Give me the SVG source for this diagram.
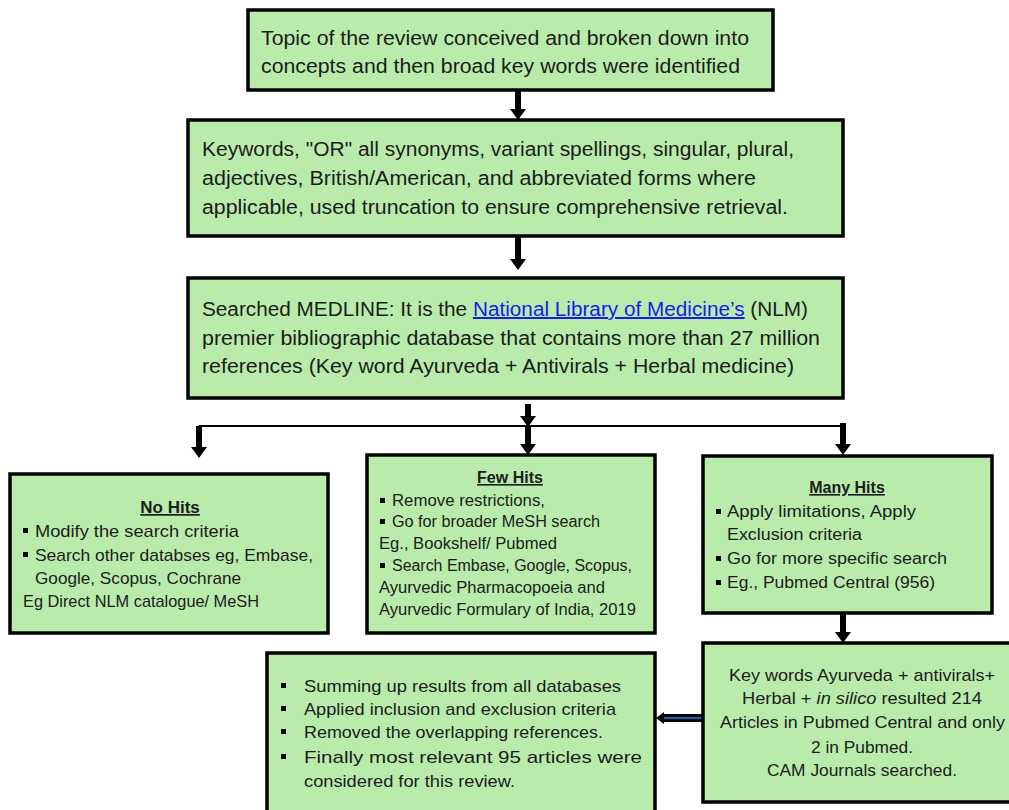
<svg xmlns="http://www.w3.org/2000/svg" width="1009" height="810" viewBox="0 0 1009 810">
<style>
.box{fill:#b9ebaa;stroke:#000;stroke-width:3.5}
.t{font-family:"Liberation Sans",Arial,sans-serif;fill:#1c1c1c}
.l{font-size:20px}
.s{font-size:17px}
.m{font-size:16px}
.h{font-weight:bold;text-decoration:underline;text-anchor:middle}
.b{fill:#000}
.sh{stroke:#000;stroke-width:6;fill:none}
</style>
<defs>
<marker id="ah" markerUnits="userSpaceOnUse" markerWidth="12" markerHeight="18" viewBox="0 -9 12 18" refX="0" refY="0" orient="auto">
<path d="M0,-8 L11,0 L0,8 z" fill="#000"/>
</marker>
</defs>
<rect width="1009" height="810" fill="#fff"/>
<g id="connectors">
<line class="sh" x1="518" y1="90" x2="518" y2="109" marker-end="url(#ah)"/>
<line class="sh" x1="518" y1="236" x2="518" y2="259" marker-end="url(#ah)"/>
<line class="sh" x1="528" y1="404" x2="528" y2="416" marker-end="url(#ah)"/>
<line class="sh" x1="528" y1="426" x2="528" y2="444" marker-end="url(#ah)"/>
<line x1="199" y1="426" x2="846" y2="426" stroke="#000" stroke-width="2"/>
<line class="sh" x1="199" y1="426" x2="199" y2="447" marker-end="url(#ah)"/>
<line class="sh" x1="843" y1="423" x2="843" y2="444" marker-end="url(#ah)"/>
<line class="sh" x1="843" y1="613" x2="843" y2="632" marker-end="url(#ah)"/>
<line x1="662" y1="718" x2="703" y2="718" stroke="#000" stroke-width="8"/>
<line x1="662" y1="718" x2="703" y2="718" stroke="#2f5597" stroke-width="2.5"/>
<path d="M664,712 L656,718 L664,724 z" fill="#000"/>
</g>
<g id="n1">
<rect class="box" x="248" y="10" width="525" height="80"/>
<text class="t l" x="261" y="45" textLength="488" lengthAdjust="spacingAndGlyphs">Topic of the review conceived and broken down into</text>
<text class="t l" x="261" y="73" textLength="479" lengthAdjust="spacingAndGlyphs">concepts and then broad key words were identified</text>
</g>
<g id="n2">
<rect class="box" x="188" y="120" width="655" height="116"/>
<text class="t l" x="202" y="156" textLength="592" lengthAdjust="spacingAndGlyphs">Keywords, "OR" all synonyms, variant spellings, singular, plural,</text>
<text class="t l" x="202" y="185" textLength="554" lengthAdjust="spacingAndGlyphs">adjectives, British/American, and abbreviated forms where</text>
<text class="t l" x="202" y="214" textLength="586" lengthAdjust="spacingAndGlyphs">applicable, used truncation to ensure comprehensive retrieval.</text>
</g>
<g id="n3">
<rect class="box" x="188" y="278" width="655" height="120"/>
<text class="t l" x="202" y="316" textLength="606" lengthAdjust="spacingAndGlyphs">Searched MEDLINE: It is the <tspan fill="#1a1aee" text-decoration="underline">National Library of Medicine’s</tspan> (NLM)</text>
<text class="t l" x="202" y="345" textLength="618" lengthAdjust="spacingAndGlyphs">premier bibliographic database that contains more than 27 million</text>
<text class="t l" x="202" y="373" textLength="592" lengthAdjust="spacingAndGlyphs">references  (Key word Ayurveda  + Antivirals + Herbal medicine)</text>
</g>
<g id="n4">
<rect class="box" x="10" y="474" width="318" height="159"/>
<text class="t s h" x="170" y="513">No Hits</text>
<rect class="b" x="23" y="528" width="5" height="5"/>
<text class="t s" x="35" y="537" textLength="204" lengthAdjust="spacingAndGlyphs">Modify the search criteria</text>
<rect class="b" x="23" y="552" width="5" height="5"/>
<text class="t s" x="35" y="561" textLength="278" lengthAdjust="spacingAndGlyphs">Search other databses eg, Embase,</text>
<text class="t s" x="35" y="584" textLength="206" lengthAdjust="spacingAndGlyphs">Google, Scopus, Cochrane</text>
<text class="t s" x="23" y="607" textLength="236" lengthAdjust="spacingAndGlyphs">Eg Direct NLM catalogue/ MeSH</text>
</g>
<g id="n5">
<rect class="box" x="367" y="455" width="288" height="178"/>
<text class="t m h" x="510" y="483">Few Hits</text>
<rect class="b" x="380" y="498" width="5" height="5"/>
<text class="t m" x="392" y="506" textLength="153" lengthAdjust="spacingAndGlyphs">Remove restrictions,</text>
<rect class="b" x="380" y="519" width="5" height="5"/>
<text class="t m" x="392" y="527" textLength="208" lengthAdjust="spacingAndGlyphs">Go for broader MeSH search</text>
<text class="t m" x="379" y="549" textLength="178" lengthAdjust="spacingAndGlyphs">Eg., Bookshelf/ Pubmed</text>
<rect class="b" x="380" y="563" width="5" height="5"/>
<text class="t m" x="392" y="571" textLength="240" lengthAdjust="spacingAndGlyphs">Search Embase, Google, Scopus,</text>
<text class="t m" x="379" y="593" textLength="226" lengthAdjust="spacingAndGlyphs">Ayurvedic Pharmacopoeia and</text>
<text class="t m" x="379" y="615" textLength="257" lengthAdjust="spacingAndGlyphs">Ayurvedic Formulary of India, 2019</text>
</g>
<g id="n6">
<rect class="box" x="703" y="456" width="289" height="157"/>
<text class="t m h" x="847" y="493">Many Hits</text>
<rect class="b" x="716" y="509" width="5" height="5"/>
<text class="t m" x="727" y="517" textLength="189" lengthAdjust="spacingAndGlyphs">Apply limitations, Apply</text>
<text class="t m" x="727" y="540" textLength="135" lengthAdjust="spacingAndGlyphs">Exclusion criteria</text>
<rect class="b" x="716" y="556" width="5" height="5"/>
<text class="t m" x="727" y="564" textLength="220" lengthAdjust="spacingAndGlyphs">Go for more  specific search</text>
<rect class="b" x="716" y="580" width="5" height="5"/>
<text class="t m" x="727" y="588" textLength="208" lengthAdjust="spacingAndGlyphs">Eg., Pubmed  Central (956)</text>
</g>
<g id="n7">
<rect class="box" x="703" y="643" width="318" height="159"/>
<text class="t s" x="729" y="681" textLength="266" lengthAdjust="spacingAndGlyphs">Key words Ayurveda + antivirals+</text>
<text class="t s" x="742" y="704" textLength="240" lengthAdjust="spacingAndGlyphs">Herbal + <tspan font-style="italic">in silico</tspan>  resulted 214</text>
<text class="t s" x="720" y="728" textLength="285" lengthAdjust="spacingAndGlyphs">Articles in Pubmed  Central and only</text>
<text class="t s" x="811" y="753" textLength="102" lengthAdjust="spacingAndGlyphs">2 in Pubmed.</text>
<text class="t s" x="767" y="776" textLength="190" lengthAdjust="spacingAndGlyphs">CAM Journals searched.</text>
</g>
<g id="n8">
<rect class="box" x="267" y="653" width="388" height="165"/>
<rect class="b" x="281" y="683" width="5" height="5"/>
<text class="t s" x="304" y="692" textLength="317" lengthAdjust="spacingAndGlyphs">Summing up results from all  databases</text>
<rect class="b" x="281" y="706" width="5" height="5"/>
<text class="t s" x="304" y="715" textLength="312" lengthAdjust="spacingAndGlyphs">Applied inclusion and exclusion criteria</text>
<rect class="b" x="281" y="729" width="5" height="5"/>
<text class="t s" x="304" y="738" textLength="299" lengthAdjust="spacingAndGlyphs">Removed the overlapping references.</text>
<rect class="b" x="281" y="754" width="5" height="5"/>
<text class="t s" x="304" y="763" textLength="338" lengthAdjust="spacingAndGlyphs">Finally most relevant 95 articles were</text>
<text class="t s" x="304" y="787" textLength="211" lengthAdjust="spacingAndGlyphs">considered for this review.</text>
</g>
</svg>
